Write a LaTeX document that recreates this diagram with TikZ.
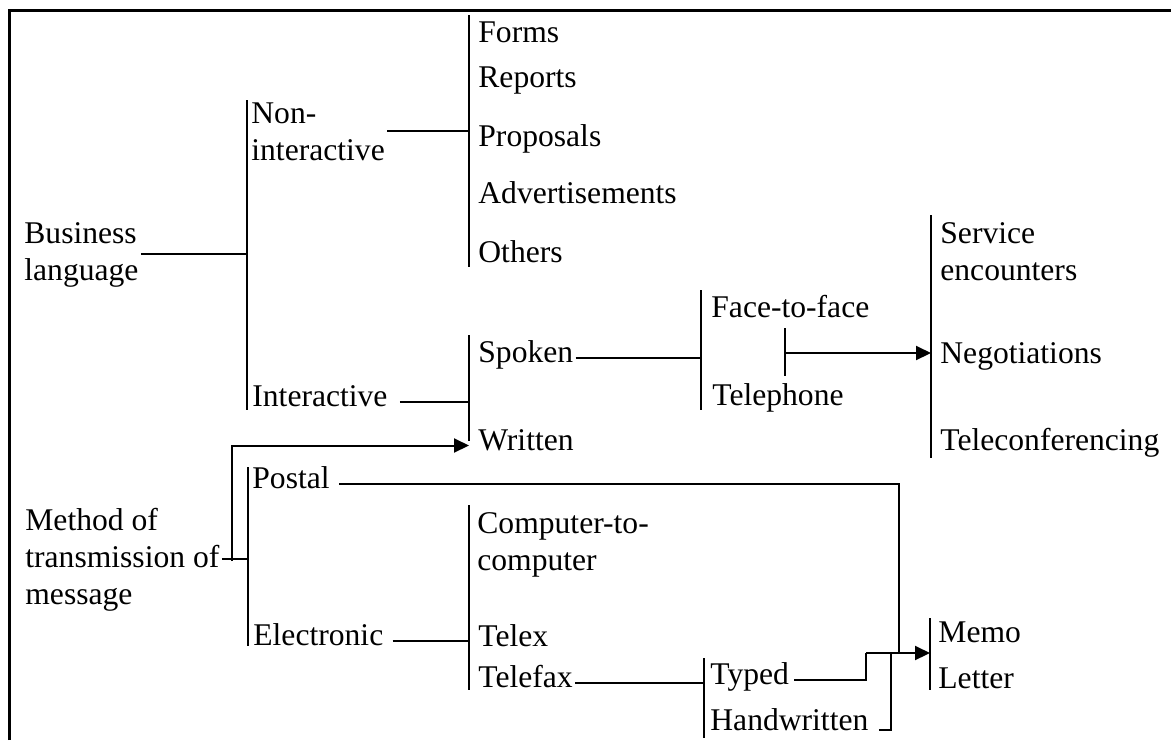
\documentclass[tikz,border=0pt]{standalone}
\usepackage{fontspec}
\setmainfont{Liberation Serif}
\usetikzlibrary{arrows.meta}
\tikzset {
    txt/.style={
        anchor=base west,
        inner sep=0pt,
        text height=.7em,
        text depth=.25em,
    },
    txt ML/.style={
        anchor=base west,
        inner sep=0pt,
        align=left, % several lines, base is the last one
    },
    bar/.style={
        line width=1pt,
    },
    link/.style={
        line width=1pt,
    },
    link arrow/.style={
        line width=1pt,
        -{Triangle[length=7.5pt,width=7pt]},
    },
}
\begin{document}
\begin{tikzpicture}
        [x=0.5pt, y=-0.5pt, font=\fontsize{15.8}{18.5}\selectfont]

        \useasboundingbox (0,0) rectangle (1171,740);
        \draw[line width=1.5pt] (9,740) -- (9,10) -- (1171,10);

        % left column
        \node[txt ML] at (24,280) (business) {Business\\language};
        \node[txt ML] at (25,604) (method) {Method of\\transmission of\\message};

        % second column
        \node[txt ML] at (251,160) (nonInt) {Non-\\interactive};
        \node[txt] at (252,406) (interactive) {Interactive};
        \node[txt] at (252,488) (postal) {Postal};
        \node[txt] at (253,645) (electronic) {Electronic};

        % third column
        \node[txt] at (478,42) (forms) {Forms};
        \node[txt] at (478,87) (reports) {Reports};
        \node[txt] at (478,146) (proposals) {Proposals};
        \node[txt] at (478,203) (adverts) {Advertisements};
        \node[txt] at (478,262) (others) {Others};
        \node[txt] at (478,362) (spoken) {Spoken};
        \node[txt] at (478,450) (written) {Written};
        \node[txt ML] at (477,570) (computer) {Computer-to-\\computer};
        \node[txt] at (478,646) (telex) {Telex};
        \node[txt] at (478,687) (telefax) {Telefax};

        % fourth column
        \node[txt] at (711,317) (face) {Face-to-face};
        \node[txt] at (712,405) (telephone) {Telephone};
        \node[txt] at (710,684) (typed) {Typed};
        \node[txt] at (710,730) (handwritten) {Handwritten};

        % last column
        \node[txt ML] at (940,280) (service) {Service\\encounters};
        \node[txt] at (940,363) (negotiations) {Negotiations};
        \node[txt] at (940,450) (telecon) {Teleconferencing};
        \node[txt] at (938,642) (memo) {Memo};
        \node[txt] at (938,688) (letter) {Letter};

        % bars
        \coordinate (barA1) at (247,100);  \coordinate (barA2) at (247,410);
        \coordinate (barB1) at (469,15);   \coordinate (barB2) at (469,267);
        \coordinate (barC1) at (469,335);  \coordinate (barC2) at (469,441);
        \coordinate (barD1) at (701,290);  \coordinate (barD2) at (701,410);
        \coordinate (barE1) at (785,328);  \coordinate (barE2) at (785,376);
        \coordinate (barF1) at (931,215);  \coordinate (barF2) at (931,458);
        \coordinate (barG1) at (248,467);  \coordinate (barG2) at (248,646);
        \coordinate (barH1) at (469,505);  \coordinate (barH2) at (469,690);
        \coordinate (barI1) at (704,658);  \coordinate (barI2) at (704,738);
        \coordinate (barJ1) at (930,618);  \coordinate (barJ2) at (930,690);
        \foreach \b in {A,B,C,D,E,F,G,H,I,J}
            \draw[bar] (bar\b1) -- (bar\b2);

        % joints
        \coordinate (ftMid) at (785,353);
        \coordinate (methodUp) at (232,561);
        \coordinate (postJoin) at (899,653);
        \coordinate (typedStep) at (866,653);
        \coordinate (handJoin) at (891,653);

        \draw[link] ([xshift=1pt]business.east) -- (business.east -| barA1);
        \draw[link] ([xshift=1pt]nonInt.east) -- (nonInt.east -| barB1);
        \draw[link] ([xshift=6pt]interactive.east) -- (interactive.east -| barC1);
        \draw[link] ([xshift=1pt]spoken.east) -- (spoken.east -| barD1);
        \draw[link arrow] (ftMid) -- (ftMid -| barF1);
        \draw[link] ([xshift=1pt]method.east) -- (method.east -| barG1);
        \draw[link arrow] (methodUp) |- (written.west -| barC1);
        \draw[link] ([xshift=4.5pt]postal.east) -| (postJoin);
        \draw[link] ([xshift=4.5pt]electronic.east) -- (electronic.east -| barH1);
        \draw[link] ([xshift=1pt]telefax.east) -- (telefax.east -| barI1);
        \draw[link] ([xshift=2.5pt]typed.east) -| (typedStep);
        \draw[link arrow] (typedStep) -- (typedStep -| barJ1);
        \draw[link] ([xshift=5pt,yshift=-2pt]handwritten.east) -| (handJoin);
    \end{tikzpicture}
\end{document}
